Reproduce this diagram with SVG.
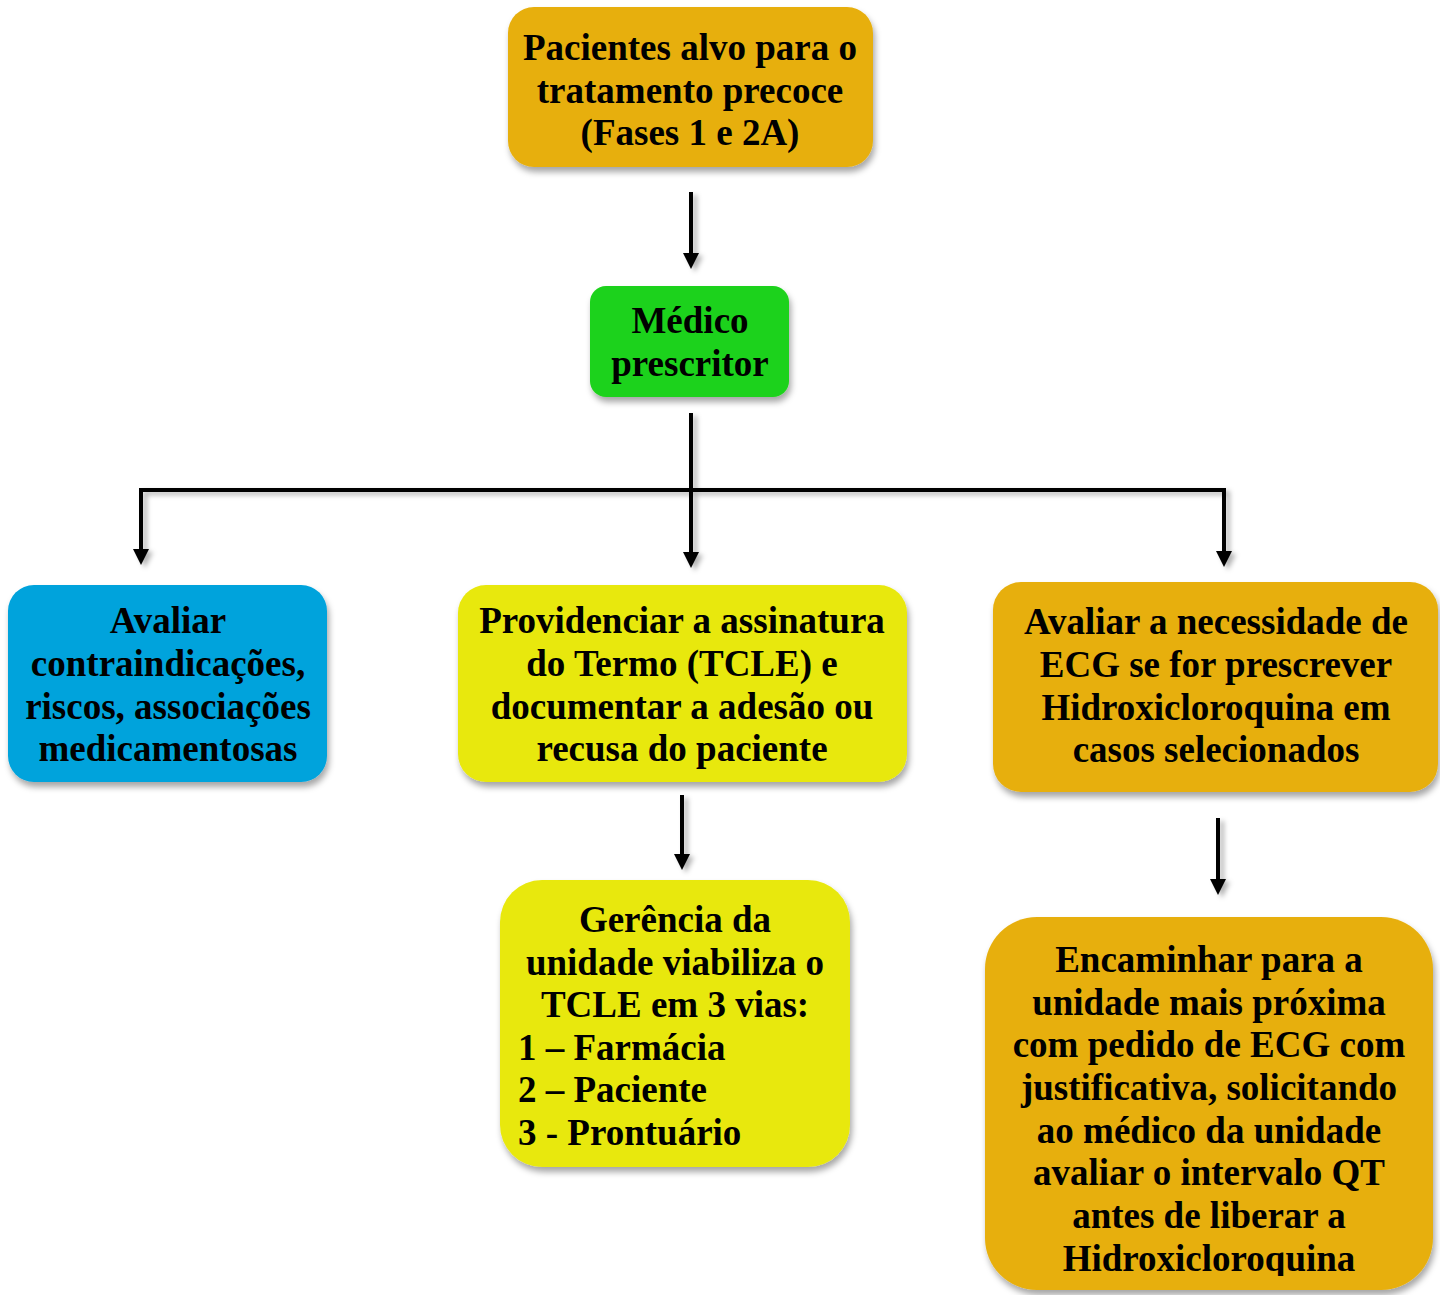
<svg xmlns="http://www.w3.org/2000/svg" width="1440" height="1295" viewBox="0 0 1440 1295">
  <style>
    .t { font-family: "Liberation Serif", "Times New Roman", serif; font-weight: bold; font-size: 37px; fill: #000; }
    .c { text-anchor: middle; }
    .l { text-anchor: start; }
    .box { filter: url(#sh); }
    .conn { fill: none; stroke: #000; stroke-width: 4; }
  </style>
  <defs>
    <filter id="sh" x="-10%" y="-10%" width="125%" height="130%">
      <feDropShadow dx="2" dy="5" stdDeviation="3" flood-color="#000" flood-opacity="0.35"/>
    </filter>
    <filter id="ash" x="-50%" y="-10%" width="300%" height="130%">
      <feDropShadow dx="4" dy="3" stdDeviation="2.5" flood-color="#000" flood-opacity="0.3"/>
    </filter>
    <marker id="ah" markerUnits="userSpaceOnUse" markerWidth="16" markerHeight="16" viewBox="0 0 16 16" refX="6" refY="8" orient="auto">
      <path d="M0,0 L16,8 L0,16 Z" fill="#000"/>
    </marker>
    <clipPath id="clipLast">
      <rect x="980" y="900" width="460" height="376"/>
    </clipPath>
  </defs>
  <rect width="1440" height="1295" fill="#fff"/>

  <g id="connectors" filter="url(#ash)">
    <path class="conn" d="M691,192 V259" marker-end="url(#ah)"/>
    <path class="conn" d="M691,413 V558" marker-end="url(#ah)"/>
    <path class="conn" d="M139,490 H1226"/>
    <path class="conn" d="M141,488 V555" marker-end="url(#ah)"/>
    <path class="conn" d="M1224,488 V557" marker-end="url(#ah)"/>
    <path class="conn" d="M682,795 V860" marker-end="url(#ah)"/>
    <path class="conn" d="M1218,818 V885" marker-end="url(#ah)"/>
  </g>

  <g id="node-pacientes">
    <rect class="box" x="508" y="7" width="365" height="160" rx="26" fill="#E7AF0B"/>
    <text class="t c" x="690" y="60">Pacientes alvo para o</text>
    <text class="t c" x="690" y="102.5">tratamento precoce</text>
    <text class="t c" x="690" y="145">(Fases 1 e 2A)</text>
  </g>

  <g id="node-medico">
    <rect class="box" x="590" y="286" width="199" height="111" rx="16" fill="#1FD21B"/>
    <text class="t c" x="690" y="333">Médico</text>
    <text class="t c" x="690" y="375.5">prescritor</text>
  </g>

  <g id="node-avaliar">
    <rect class="box" x="8" y="585" width="319" height="197" rx="26" fill="#05A3DC"/>
    <text class="t c" x="168" y="633">Avaliar</text>
    <text class="t c" x="168" y="676">contraindicações,</text>
    <text class="t c" x="168" y="718.5">riscos, associações</text>
    <text class="t c" x="168" y="761">medicamentosas</text>
  </g>

  <g id="node-providenciar">
    <rect class="box" x="458" y="585" width="449" height="197" rx="28" fill="#E8E80B"/>
    <text class="t c" x="682" y="633">Providenciar a assinatura</text>
    <text class="t c" x="682" y="676">do Termo (TCLE) e</text>
    <text class="t c" x="682" y="718.5">documentar a adesão ou</text>
    <text class="t c" x="682" y="761">recusa do paciente</text>
  </g>

  <g id="node-ecg">
    <rect class="box" x="993" y="582" width="445" height="210" rx="28" fill="#E7AF0B"/>
    <text class="t c" x="1216" y="634">Avaliar a necessidade de</text>
    <text class="t c" x="1216" y="677">ECG se for prescrever</text>
    <text class="t c" x="1216" y="719.5">Hidroxicloroquina em</text>
    <text class="t c" x="1216" y="762">casos selecionados</text>
  </g>

  <g id="node-gerencia">
    <rect class="box" x="500" y="880" width="350" height="287" rx="42" fill="#E8E80B"/>
    <text class="t c" x="675" y="932">Gerência da</text>
    <text class="t c" x="675" y="975">unidade viabiliza o</text>
    <text class="t c" x="675" y="1017">TCLE em 3 vias:</text>
    <text class="t l" x="518" y="1059.5">1 – Farmácia</text>
    <text class="t l" x="518" y="1102">2 – Paciente</text>
    <text class="t l" x="518" y="1145">3 - Prontuário</text>
  </g>

  <g id="node-encaminhar">
    <rect class="box" x="985" y="917" width="448" height="373" rx="52" fill="#E7AF0B"/>
    <text class="t c" x="1209" y="972">Encaminhar para a</text>
    <text class="t c" x="1209" y="1015">unidade mais próxima</text>
    <text class="t c" x="1209" y="1057">com pedido de ECG com</text>
    <text class="t c" x="1209" y="1100">justificativa, solicitando</text>
    <text class="t c" x="1209" y="1143">ao médico da unidade</text>
    <text class="t c" x="1209" y="1185">avaliar o intervalo QT</text>
    <text class="t c" x="1209" y="1228">antes de liberar a</text>
    <text class="t c" x="1209" y="1271" clip-path="url(#clipLast)">Hidroxicloroquina</text>
  </g>
</svg>
